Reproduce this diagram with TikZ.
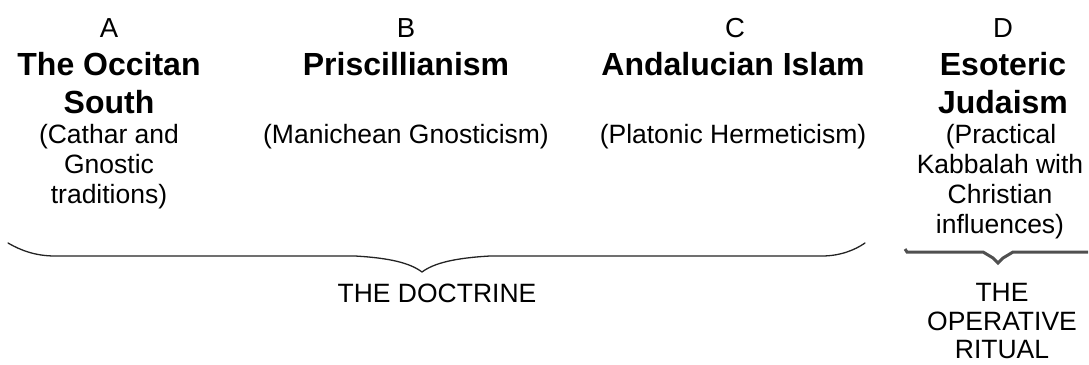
\documentclass[tikz,border=0pt]{standalone}
\usepackage{fontspec}
\setmainfont{Liberation Sans}
\definecolor{braceA}{RGB}{35,35,35}
\definecolor{braceB}{RGB}{80,80,80}
\begin{document}
\begin{tikzpicture}[x=1pt,y=-1pt,
  reg/.style={font=\fontsize{26.5}{30}\selectfont, inner sep=0pt, anchor=base},
  ltr/.style={font=\fontsize{27.5}{30}\selectfont, inner sep=0pt, anchor=base},
  ttl/.style={font=\fontsize{32}{38}\bfseries\selectfont, inner sep=0pt, anchor=base},
  brcA/.style={draw=braceA, line width=1.3pt, line cap=round, line join=round},
  brcB/.style={draw=braceB, line width=3pt, line join=miter}]
\useasboundingbox (0,0) rectangle (1089,364);
% column A
\node[ltr] (aL) at (109,37) {A};
\node[ttl] (aT1) at (109,75) {The Occitan};
\node[ttl] (aT2) at (109,113) {South};
\node[reg] (aS1) at (109,143) {(Cathar and};
\node[reg] (aS2) at (109,173) {Gnostic};
\node[reg] (aS3) at (109,203) {traditions)};
% column B
\node[ltr] (bL) at (406,37) {B};
\node[ttl] (bT) at (406,75) {Priscillianism};
\node[reg] (bS) at (406,143) {(Manichean Gnosticism)};
% column C
\node[ltr] (cL) at (735,37) {C};
\node[ttl] (cT) at (733,75) {Andalucian Islam};
\node[reg] (cS) at (733,143) {(Platonic Hermeticism)};
% column D
\node[ltr] (dL) at (1003,37) {D};
\node[ttl] (dT1) at (1003,75) {Esoteric};
\node[ttl] (dT2) at (1003,113) {Judaism};
\node[reg] (dS1) at (1001,143) {(Practical};
\node[reg] (dS2) at (1000,173) {Kabbalah with};
\node[reg] (dS3) at (1000,203) {Christian};
\node[reg] (dS4) at (1000,233) {influences)};
% braces
\draw[brcA] (8,243) .. controls (20,250) and (35,256) .. (55,256) -- (355,256)
  .. controls (390,258) and (410,263) .. (422,272)
  .. controls (434,263) and (455,258) .. (490,256) -- (822,256)
  .. controls (840,256) and (855,250) .. (865,243);
\draw[brcB] (905,249) -- (907,252) -- (983,252) -- (993,258) -- (998,263)
  -- (1003,258) -- (1013,252) -- (1088,252);
% labels
\node[reg] (doc) at (437,302) {THE DOCTRINE};
\node[reg] (r1) at (1002,301) {THE};
\node[reg] (r2) at (1002,330) {OPERATIVE};
\node[reg] (r3) at (1002,358) {RITUAL};
\end{tikzpicture}
\end{document}
